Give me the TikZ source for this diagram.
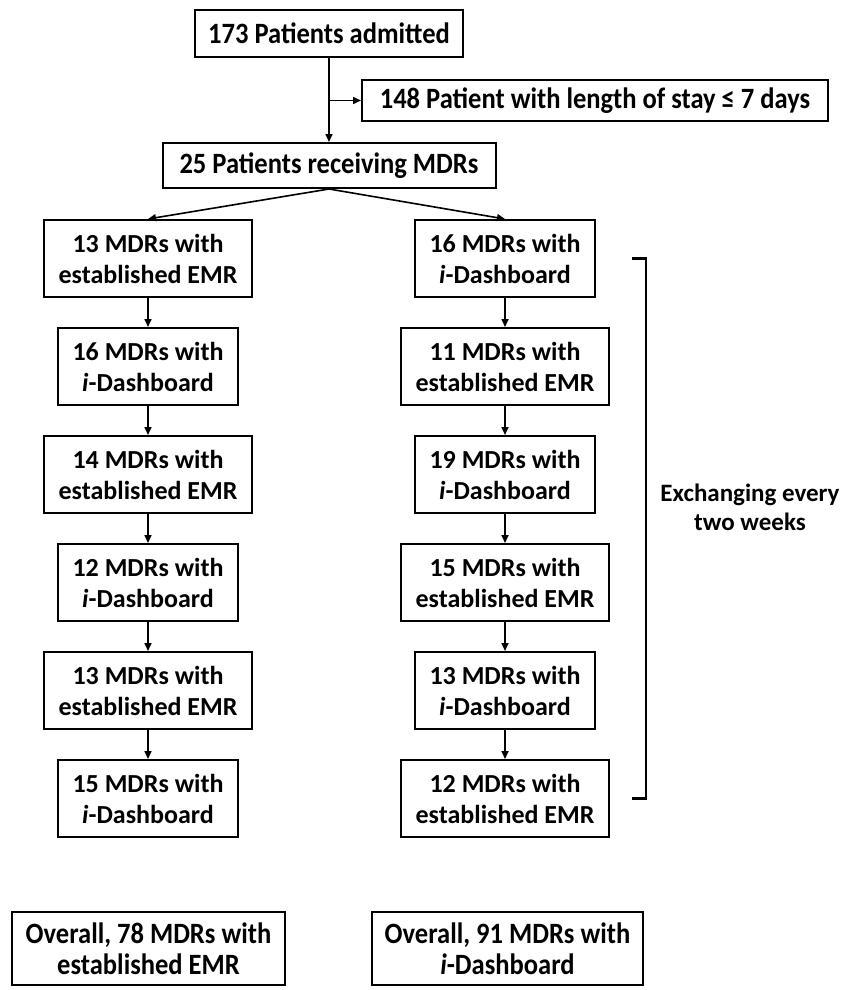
\documentclass[tikz,border=0pt]{standalone}
\usepackage{fontspec}
\setmainfont{Carlito}
\newfontfamily\narrowfont{Carlito}[FakeStretch=0.9]
\usetikzlibrary{arrows.meta,positioning,calc}

\begin{document}
\begin{tikzpicture}[
  x=1pt, y=1pt,
  >={Triangle[length=8pt,width=7pt]},
  every node/.style={font=\fontsize{26}{31}\selectfont\bfseries},
  box/.style={draw, line width=2pt, align=center, inner sep=0pt,
              minimum height=77pt},
  emrbox/.style={box, minimum width=208pt},
  dashbox/.style={box, minimum width=180pt},
  sumbox/.style={draw, line width=2pt, align=center, inner sep=0pt,
                 font=\narrowfont\fontsize{29.5}{31}\selectfont\bfseries},
  link/.style={->, line width=1.6pt},
]
\useasboundingbox (0,0) rectangle (850,-990);

\node[sumbox, minimum width=268pt, minimum height=47pt] (adm) at (329,-33.5)
  {173 Patients admitted};
\node[sumbox, minimum width=466pt, minimum height=41pt] (excl) at (595,-100.5)
  {148 Patient with length of stay ≤ 7 days};
\node[sumbox, minimum width=333pt, minimum height=45pt, below=84pt of adm] (recv)
  {25 Patients receiving MDRs};

\node[emrbox] (l1) at (148,-258.5) {13 MDRs with\\established EMR};
\node[dashbox, below=29pt of l1] (l2) {16 MDRs with\\\textit{i}-Dashboard};
\node[emrbox, below=29pt of l2] (l3) {14 MDRs with\\established EMR};
\node[dashbox, below=29pt of l3] (l4) {12 MDRs with\\\textit{i}-Dashboard};
\node[emrbox, below=29pt of l4] (l5) {13 MDRs with\\established EMR};
\node[dashbox, below=29pt of l5] (l6) {15 MDRs with\\\textit{i}-Dashboard};

\node[dashbox] (r1) at (505,-258.5) {16 MDRs with\\\textit{i}-Dashboard};
\node[emrbox, below=29pt of r1] (r2) {11 MDRs with\\established EMR};
\node[dashbox, below=29pt of r2] (r3) {19 MDRs with\\\textit{i}-Dashboard};
\node[emrbox, below=29pt of r3] (r4) {15 MDRs with\\established EMR};
\node[dashbox, below=29pt of r4] (r5) {13 MDRs with\\\textit{i}-Dashboard};
\node[emrbox, below=29pt of r5] (r6) {12 MDRs with\\established EMR};

\node[sumbox, minimum width=273pt, minimum height=73pt] (allemr) at (148.5,-948.5)
  {Overall, 78 MDRs with\\established EMR};
\node[sumbox, minimum width=271pt, minimum height=73pt] (alldash) at (507.5,-948.5)
  {Overall, 91 MDRs with\\\textit{i}-Dashboard};

\coordinate (split) at (adm.south |- excl.west);
\draw[link] (adm) -- (recv);
\draw[link] (split) -- (excl.west);
\draw[link] (recv.south) -- (l1.north);
\draw[link] (recv.south) -- (r1.north);
\draw[link] (l1) -- (l2);
\draw[link] (l2) -- (l3);
\draw[link] (l3) -- (l4);
\draw[link] (l4) -- (l5);
\draw[link] (l5) -- (l6);
\draw[link] (r1) -- (r2);
\draw[link] (r2) -- (r3);
\draw[link] (r3) -- (r4);
\draw[link] (r4) -- (r5);
\draw[link] (r5) -- (r6);

\coordinate (brtop) at ($(r1.center)+(127pt,0)$);
\coordinate (brbot) at ($(r6.center)+(127pt,0)$);
\draw[line width=2.6pt] (brtop) -- ++(14pt,0) |- (brbot);
\node[align=center, font=\fontsize{25}{29}\selectfont\bfseries] (swap)
  at ($(brtop)!0.46!(brbot)+(118pt,0)$) {Exchanging every\\two weeks};
\end{tikzpicture}
\end{document}
